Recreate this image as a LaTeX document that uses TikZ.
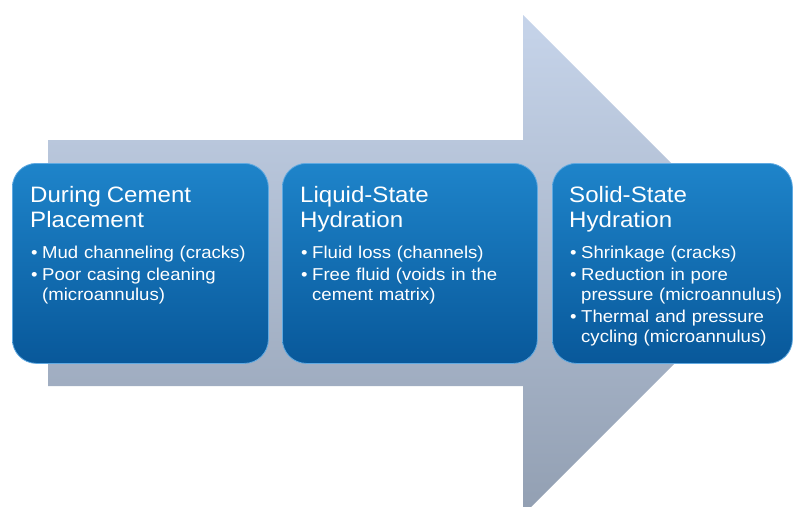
\documentclass[tikz,border=0pt]{standalone}
\usepackage{fontspec}
\setmainfont{Liberation Sans}[FakeStretch=1.08]
\usetikzlibrary{positioning}
\definecolor{arrowtop}{RGB}{198,212,234}
\definecolor{arrowbot}{RGB}{146,159,178}
\definecolor{boxtop}{RGB}{30,132,202}
\definecolor{boxbot}{RGB}{8,88,154}
\definecolor{boxedge}{RGB}{96,170,226}

% heading and bullet lines inside a stage box
\newcommand{\stagehead}[1]{{\fontsize{22.3}{25}\selectfont #1\par}\vspace{9pt}}
\newcommand{\stageitem}[1]{\par\hangindent=12pt\hangafter=1\noindent\makebox[12pt][l]{\hspace{1pt}\textbullet}#1}

\begin{document}
\begin{tikzpicture}[x=1pt,y=-1pt,
    stagebox/.style={rounded corners=24pt, top color=boxtop, bottom color=boxbot,
      draw=boxedge, line width=0.8pt, minimum height=200pt, inner sep=0pt, anchor=north west},
    stagetext/.style={anchor=north west, inner sep=0pt, text=white, text width=240pt,
      align=left, font=\fontsize{17.2}{20}\selectfont\setlength{\parskip}{2pt}}]
  \useasboundingbox (0,0) rectangle (794,506);
  \clip (0,0) rectangle (794,506);

  % big process arrow behind the stages
  \shade[top color=arrowtop, bottom color=arrowbot]
    (48,140) -- (523,140) -- (523,15) -- (773,265) -- (523,515) -- (523,386) -- (48,386) -- cycle;

  % the three stages
  \node[stagebox, minimum width=256pt] (placement) at (12,163) {};
  \node[stagebox, minimum width=255pt] (liquid) at (282,163) {};
  \node[stagebox, minimum width=240pt] (solid) at (552,163) {};

  \node[stagetext] (placement text) at ([xshift=18pt,yshift=-23pt]placement.north west)
    {\stagehead{During Cement\\Placement}
     \stageitem{Mud channeling (cracks)}
     \stageitem{Poor casing cleaning\newline(microannulus)}\par};
  \node[stagetext] (liquid text) at ([xshift=18pt,yshift=-23pt]liquid.north west)
    {\stagehead{Liquid-State\\Hydration}
     \stageitem{Fluid loss (channels)}
     \stageitem{Free fluid (voids in the\newline cement matrix)}\par};
  \node[stagetext, text width=232pt] (solid text) at ([xshift=17pt,yshift=-23pt]solid.north west)
    {\stagehead{Solid-State\\Hydration}
     \stageitem{Shrinkage (cracks)}
     \stageitem{Reduction in pore\newline pressure (microannulus)}
     \stageitem{Thermal and pressure\newline cycling (microannulus)}\par};
\end{tikzpicture}
\end{document}
